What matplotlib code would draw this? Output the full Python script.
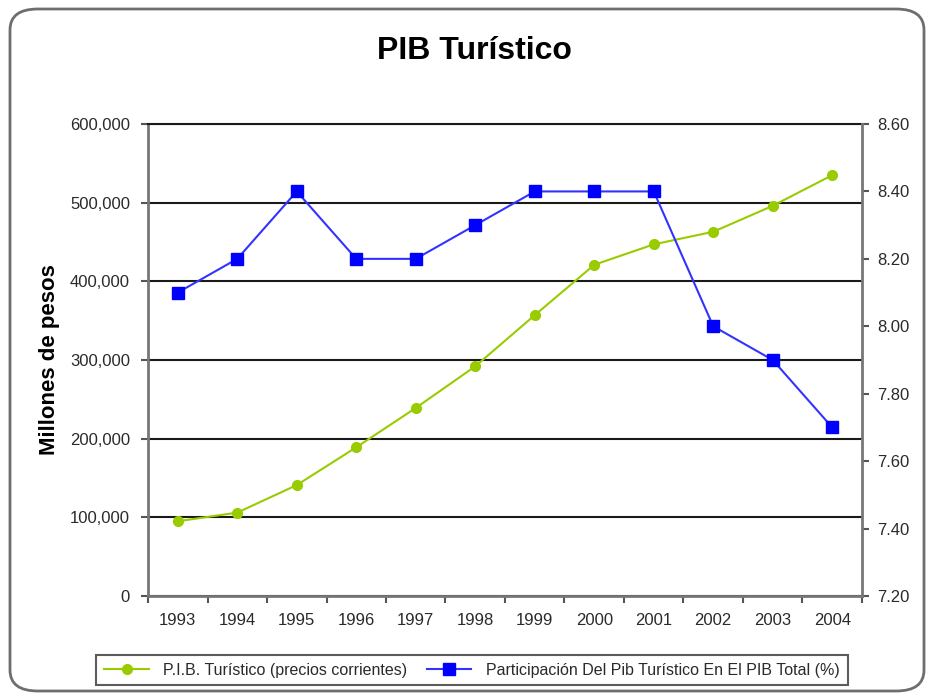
import numpy as np
import matplotlib
matplotlib.use('Agg')
from matplotlib import pyplot as plt
from matplotlib.patches import FancyBboxPatch
from matplotlib.ticker import FuncFormatter, FixedLocator

plt.rcParams['font.family'] = ['Liberation Sans', 'DejaVu Sans']

years = ['1993', '1994', '1995', '1996', '1997', '1998', '1999', '2000', '2001', '2002', '2003', '2004']
pib = [95000, 106000, 141000, 189000, 239000, 292000, 357000, 421000, 447000, 463000, 496000, 535000]
participacion = [8.10, 8.20, 8.40, 8.20, 8.20, 8.30, 8.40, 8.40, 8.40, 8.00, 7.90, 7.70]

label_pib = 'P.I.B. Turístico (precios corrientes)'
label_part = 'Participación Del Pib Turístico En El PIB Total (%)'

fig = plt.figure(figsize=(9.28, 6.97), dpi=100)

# outer rounded chart border
border = FancyBboxPatch((10/928, 6/697), 914/928, 682/697,
                        boxstyle='round,pad=0,rounding_size=0.03',
                        transform=fig.transFigure, fill=False,
                        edgecolor='#6e6e6e', linewidth=2)
fig.patches.append(border)

ax = fig.add_axes([148/928, 101/697, 714/928, 472/697])
x = np.arange(len(years))

ax.set_xlim(-0.5, len(years) - 0.5)
ax.set_ylim(0, 600000)
ax.set_yticks(np.arange(0, 600001, 100000))
ax.yaxis.set_major_formatter(FuncFormatter(lambda v, p: '{:,.0f}'.format(v)))
ax.grid(axis='y', color='#1a1a1a', linewidth=1.5)
ax.set_axisbelow(True)

ax.set_xticks(x)
ax.set_xticklabels(years)
ax.xaxis.set_minor_locator(FixedLocator(np.arange(-0.5, len(years), 1)))
ax.tick_params(axis='x', which='major', length=0, pad=12, labelsize=12, labelcolor='#2a2a2a')
ax.tick_params(axis='x', which='minor', length=5, width=1.5, color='#555555')
ax.tick_params(axis='y', length=5, width=1.5, color='#555555', labelsize=12, labelcolor='#2a2a2a', pad=8)

for s in ['left', 'bottom']:
    ax.spines[s].set_color('#777777')
    ax.spines[s].set_linewidth(2)
ax.spines['top'].set_color('#1a1a1a')
ax.spines['top'].set_linewidth(1.5)
ax.spines['right'].set_visible(False)

ax.set_ylabel('Millones de pesos', fontsize=16, fontweight='bold', labelpad=7)

l1, = ax.plot(x, pib, color='#99CC00', linewidth=1.5, marker='o', markersize=7,
              label=label_pib)

ax2 = ax.twinx()
ax2.set_ylim(7.2, 8.6)
ax2.set_yticks(np.arange(7.2, 8.61, 0.2))
ax2.yaxis.set_major_formatter(FuncFormatter(lambda v, p: '%.2f' % v))
ax2.tick_params(axis='y', length=5, width=1.5, color='#555555', labelsize=12, labelcolor='#2a2a2a', pad=6)
ax2.spines['right'].set_color('#777777')
ax2.spines['right'].set_linewidth(2)
for s in ['left', 'top', 'bottom']:
    ax2.spines[s].set_visible(False)

l2, = ax2.plot(x, participacion, color='#3333FF', linewidth=1.5, marker='s', markersize=9,
               markerfacecolor='#0000FF', markeredgecolor='#0000FF', label=label_part)

fig.text(474/928, 1 - 51/697, 'PIB Turístico', ha='center', va='center',
         fontsize=23, fontweight='bold')

leg = fig.legend([l1, l2], [label_pib, label_part], loc='center',
                 bbox_to_anchor=(472/928, 1 - 670/697), ncol=2, fontsize=11.5,
                 frameon=True, fancybox=False, handlelength=2.8, columnspacing=1.2,
                 handletextpad=0.9, borderpad=0.5)
leg.get_frame().set_edgecolor('#333333')
leg.get_frame().set_linewidth(1.5)
for t in leg.get_texts():
    t.set_color('#2a2a2a')

fig.savefig('out.png', dpi=100)
